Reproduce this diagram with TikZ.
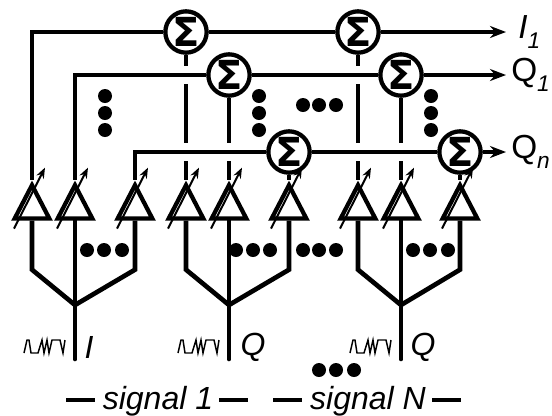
\documentclass[tikz,border=0pt]{standalone}
\usepackage{fontspec}
\setmainfont{Liberation Sans}
\newfontfamily\sigmafont{DejaVu Sans}
\usetikzlibrary{arrows.meta,shapes.geometric}

\tikzset{
  wire/.style={line width=3.5pt},
  bridge/.style={preaction={draw=white,line width=13pt}},
  tip/.style={-{Stealth[length=12pt,width=9pt]}},
  sum/.style={circle,draw,line width=3.2pt,fill=white,inner sep=0pt,minimum size=31pt,font=\sigmafont\fontsize{30}{30}\bfseries\selectfont},
  amp/.style={isosceles triangle,isosceles triangle stretches,shape border rotate=90,draw,line width=3.2pt,inner sep=0pt,minimum width=26pt,minimum height=25pt},
  tune/.style={line width=1.5pt,-{Stealth[length=8pt,width=6pt]}},
  bigdot/.style={circle,fill,inner sep=0pt,minimum size=10.5pt},
  lab/.style={inner sep=0pt,font=\fontsize{24}{24}\selectfont},
  outlab/.style={lab,anchor=west,font=\fontsize{25}{25}\selectfont},
  wave/.pic={\draw[line width=1.1pt] (0,0) -- (3,-13) -- (5,-13) -- (7,0) -- (14,0) -- (18,-13) -- (20,0) -- (23,-13) -- (25,0) -- (28,-13) -- (36,-13) -- (39,0) -- (41,-13);}
}

\begin{document}
\begin{tikzpicture}[x=0.75pt,y=-0.75pt]
        \useasboundingbox (0,0) rectangle (552,415);

        % Summers
        \foreach \n/\x/\y in {a/186/32,b/229/75,c/289/152,d/358/32,e/401/75,f/460/152}
          \node[sum] (sum\n) at (\x,\y) {Σ};

        % Amplifiers
        \foreach \n/\x in {1/32,2/75,3/135,4/186,5/229,6/289,7/358,8/401,9/460}
          \node[amp] (amp\n) at (\x,208) {};

        % Outputs
        \node[outlab] (outI) at (518,32) {\textit{I}\raisebox{-8pt}{\fontsize{17}{17}\selectfont\textit{1}}};
        \node[outlab] (outQ) at (511,75) {Q\raisebox{-8pt}{\fontsize{17}{17}\selectfont\textit{1}}};
        \node[outlab] (outN) at (511,152) {Q\raisebox{-8pt}{\fontsize{17}{17}\selectfont\textit{n}}};

        % Vertical links
        \foreach \a/\s in {4/a,5/b,6/c,7/d,8/e,9/f}
          \draw[wire] (sum\s) -- (amp\a.apex);

        % Horizontal buses
        \coordinate (endI) at (506,32);
        \coordinate (endQ) at (506,75);
        \coordinate (endN) at (506,152);
        \draw[wire,bridge] (amp1.apex) |- (suma) -- (sumd);
        \draw[wire,tip] (sumd) -- (endI);
        \draw[wire,bridge] (amp2.apex) |- (sumb) -- (sume);
        \draw[wire,tip] (sume) -- (endQ);
        \draw[wire,bridge] (amp3.apex) |- (sumc) -- (sumf);
        \draw[wire,tip] (sumf) -- (endN);

        % Gain arrows
        \foreach \n in {1,...,9}
          \draw[tune] ([shift={(-18,49)}]amp\n.apex) -- ([shift={(13,-12)}]amp\n.apex);

        % Input forks
        \foreach \l/\m/\r/\name in {1/2/3/A,4/5/6/B,7/8/9/C} {
          \coordinate (fork\name) at (amp\m.lower side |- 0,305);
          \coordinate (in\name) at (amp\m.lower side |- 0,359);
          \draw[wire] (amp\l.lower side) -- ++(0,49) -- (fork\name);
          \draw[wire] (amp\r.lower side) -- ++(0,49) -- (fork\name);
          \draw[wire,line cap=round] (amp\m.lower side) -- (in\name);
          \path (in\name) ++(-51,-6) pic {wave};
        }

        % Dots
        \foreach \x/\y in {105/96,105/113,105/130,259/96,259/113,259/130,431/96,431/113,431/130,303/105,319/105,336/105,87/250,104/250,122/250,236/250,253/250,270/250,303/250,319/250,336/250,413/250,430/250,448/250,319/370,336/370,354/370}
          \node[bigdot] at (\x,\y) {};

        % Input labels
        \node[lab] (labI) at (89,347) {\textit{I}};
        \node[lab] (labQ) at (253,347) {\textit{Q}};
        \node[lab] (labR) at (423,347) {\textit{Q}};

        % Signal names
        \node[lab,anchor=base] (sig1) at (158,409) {\textit{signal 1}};
        \node[lab,anchor=base] (sigN) at (368,409) {\textit{signal N}};
        \foreach \s in {sig1,sigN} {
          \draw[wire] ([shift={(-8,-9)}]\s.base west) -- ++(-29,0);
          \draw[wire] ([shift={(6,-9)}]\s.base east) -- ++(29,0);
        }
      \end{tikzpicture}
\end{document}
